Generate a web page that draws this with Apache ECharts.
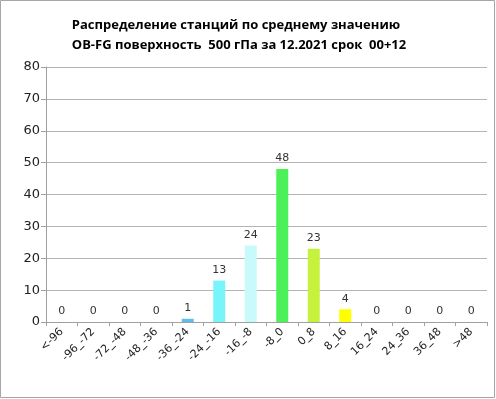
<!DOCTYPE html>
<html><head><meta charset="utf-8">
<script src="https://cdn.jsdelivr.net/npm/echarts@6/dist/echarts.min.js"></script>
<style>html,body{margin:0;padding:0;background:#fff}#c{width:496px;height:399px}</style>
</head><body><div id="c"></div>
<script>
var categories = ['<-96','-96_-72','-72_-48','-48_-36','-36_-24','-24_-16','-16_-8','-8_0','0_8','8_16','16_24','24_36','36_48','>48'];
var values = [0,0,0,0,1,13,24,48,23,4,0,0,0,0];
var barColors = ['#4fb0e8','#4fb0e8','#4fb0e8','#4fb0e8','#5ebcee','#78f4fb','#c8fafb','#4cf058','#c6f23e','#ffff00','#ffff00','#ffff00','#ffff00','#ffff00'];
var titleLines = ['Распределение станций по среднему значению','OB-FG поверхность  500 гПа за 12.2021 срок  00+12'];
var yTicks = {min:0, max:80, interval:10};

var chart = echarts.init(document.getElementById('c'));
var tStyle = {fontFamily:'Open Sans',fontWeight:'bold',fontSize:13,fill:'#000',align:'center',verticalAlign:'middle',textAlign:'center',textVerticalAlign:'middle'};
chart.setOption({
  animation:false,
  graphic:[
    {type:'rect',shape:{x:0.5,y:0.5,width:494,height:397},style:{fill:'none',stroke:'#a6a6a6',lineWidth:1},silent:true},
    {type:'text',x:236,y:25,style:Object.assign({text:titleLines[0]},tStyle)},
    {type:'text',x:239,y:45,style:Object.assign({text:titleLines[1]},tStyle)}
  ],
  grid:{left:46,right:9,top:67,bottom:77,containLabel:false},
  xAxis:{type:'category',data:categories,
    axisLine:{lineStyle:{color:'#a0a0a0'}},
    axisTick:{show:true,length:4,lineStyle:{color:'#a0a0a0'},alignWithLabel:false},
    axisLabel:{rotate:45,interval:0,fontFamily:'DejaVu Sans',fontSize:11,color:'#222',margin:8}},
  yAxis:{type:'value',min:yTicks.min,max:yTicks.max,interval:yTicks.interval,
    axisLine:{show:true,lineStyle:{color:'#a0a0a0'}},
    axisTick:{show:true,length:5,lineStyle:{color:'#a0a0a0'}},
    splitLine:{lineStyle:{color:'#b4b4b4'}},
    axisLabel:{fontFamily:'DejaVu Sans',fontSize:13,color:'#222',margin:6}},
  series:[{type:'bar',barWidth:12,
    data:values.map(function(v,i){return {value:v,itemStyle:{color:barColors[i]}};}),
    label:{show:true,position:'top',distance:5,fontFamily:'DejaVu Sans',fontSize:11,color:'#333'}}]
});
</script></body></html>
